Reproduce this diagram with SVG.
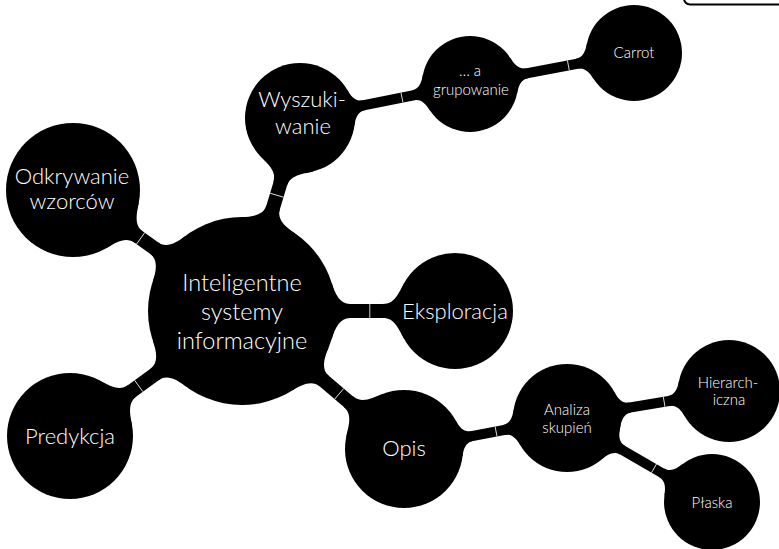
<svg xmlns="http://www.w3.org/2000/svg" xmlns:xlink="http://www.w3.org/1999/xlink" width="779" height="549" viewBox="0 0 779 549">
<style>
.c{fill:#000}
text{font-family:Lato,"Open Sans","DejaVu Sans",sans-serif;font-weight:300;fill:#fff;text-anchor:middle}
.t0{font-size:23.5px}
.t1{font-size:22px}
.t2{font-size:15px}
.b1{stroke:#000;stroke-width:14}
.b2{stroke:#000;stroke-width:10}
.tk{stroke:#fff;stroke-width:0.8}
#connectors path,#connectors use{fill:#000}
</style>
<defs>
<path id="r94" d="M-12.3,-28 L-4.27,-28 C-0.83,-16.97 3.95,-7 14,-7 L14,7 C3.95,7 -0.83,16.97 -4.27,28 L-12.3,28 Z"/>
<path id="r55" d="M-15.7,-28 L-7.66,-28 C-1.78,-18.06 2.09,-7 14,-7 L14,7 C2.09,7 -1.78,18.06 -7.66,28 L-15.7,28 Z"/>
<path id="r67" d="M-14.1,-28 L-6.13,-28 C-1.3,-17.5 2.93,-7 14,-7 L14,7 C2.93,7 -1.3,17.5 -6.13,28 L-14.1,28 Z"/>
<path id="r58" d="M-15.2,-28 L-7.21,-28 C-1.63,-17.88 2.33,-7 14,-7 L14,7 C2.33,7 -1.63,17.88 -7.21,28 L-15.2,28 Z"/>
<path id="r63" d="M-14.6,-28 L-6.56,-28 C-1.43,-17.65 2.69,-7 14,-7 L14,7 C2.69,7 -1.43,17.65 -6.56,28 L-14.6,28 Z"/>
<path id="r59" d="M-15.1,-28 L-7.07,-28 C-1.58,-17.84 2.41,-7 14,-7 L14,7 C2.41,7 -1.58,17.84 -7.07,28 L-15.1,28 Z"/>
<path id="s55" d="M-11,-18 L-3.03,-18 C-0.69,-11.24 2.83,-5 10,-5 L10,5 C2.83,5 -0.69,11.24 -3.03,18 L-11,18 Z"/>
<path id="s48" d="M-11.5,-18 L-3.5,-18 C-0.82,-11.37 2.58,-5 10,-5 L10,5 C2.58,5 -0.82,11.37 -3.5,18 L-11.5,18 Z"/>
<path id="s59" d="M-10.8,-18 L-2.81,-18 C-0.63,-11.19 2.95,-5 10,-5 L10,5 C2.95,5 -0.63,11.19 -2.81,18 L-10.8,18 Z"/>
<path id="s54" d="M-11.1,-18 L-3.09,-18 C-0.71,-11.26 2.8,-5 10,-5 L10,5 C2.8,5 -0.71,11.26 -3.09,18 L-11.1,18 Z"/>
<path id="s51" d="M-11.3,-18 L-3.28,-18 C-0.76,-11.31 2.7,-5 10,-5 L10,5 C2.7,5 -0.76,11.31 -3.28,18 L-11.3,18 Z"/>
</defs>
<rect x="684" y="-30" width="120" height="34.5" rx="6" fill="#fff" stroke="#000" stroke-width="2"/>
<g id="connectors">
<g transform="translate(242,311) rotate(-73.27)"><line class="b1" x1="0" y1="0" x2="201.53" y2="0"/><use xlink:href="#r94" x="94"/><use xlink:href="#r55" transform="translate(146.53,0) scale(-1,1)"/><line class="tk" x1="120.9" y1="-7" x2="120.9" y2="7"/></g>
<g transform="translate(242,311) rotate(-144.4)"><line class="b1" x1="0" y1="0" x2="207.85" y2="0"/><use xlink:href="#r94" x="94"/><use xlink:href="#r67" transform="translate(140.85,0) scale(-1,1)"/><line class="tk" x1="124.7" y1="-7" x2="124.7" y2="7"/></g>
<g transform="translate(242,311)"><line class="b1" x1="0" y1="0" x2="213" y2="0"/><use xlink:href="#r94" x="94"/><use xlink:href="#r58" transform="translate(155,0) scale(-1,1)"/><line class="tk" x1="127.8" y1="-7" x2="127.8" y2="7"/></g>
<g transform="translate(242,311) rotate(144)"><line class="b1" x1="0" y1="0" x2="212.62" y2="0"/><use xlink:href="#r94" x="94"/><use xlink:href="#r63" transform="translate(149.62,0) scale(-1,1)"/><line class="tk" x1="127.6" y1="-7" x2="127.6" y2="7"/></g>
<g transform="translate(242,311) rotate(40.43)"><line class="b1" x1="0" y1="0" x2="212.81" y2="0"/><use xlink:href="#r94" x="94"/><use xlink:href="#r59" transform="translate(153.81,0) scale(-1,1)"/><line class="tk" x1="127.7" y1="-7" x2="127.7" y2="7"/></g>
<g transform="translate(300,118) rotate(-11.31)"><line class="b2" x1="0" y1="0" x2="173.37" y2="0"/><use xlink:href="#s55" x="55"/><use xlink:href="#s48" transform="translate(125.37,0) scale(-1,1)"/><line class="tk" x1="104" y1="-5" x2="104" y2="5"/></g>
<g transform="translate(470,84) rotate(-10.7)"><line class="b2" x1="0" y1="0" x2="166.9" y2="0"/><use xlink:href="#s48" x="48"/><use xlink:href="#s48" transform="translate(118.9,0) scale(-1,1)"/><line class="tk" x1="100.1" y1="-5" x2="100.1" y2="5"/></g>
<g transform="translate(404,449) rotate(-10.77)"><line class="b2" x1="0" y1="0" x2="165.92" y2="0"/><use xlink:href="#s59" x="59"/><use xlink:href="#s54" transform="translate(111.92,0) scale(-1,1)"/><line class="tk" x1="93.7" y1="-5" x2="93.7" y2="5"/></g>
<g transform="translate(567,418) rotate(-9.46)"><line class="b2" x1="0" y1="0" x2="164.24" y2="0"/><use xlink:href="#s54" x="54"/><use xlink:href="#s51" transform="translate(113.24,0) scale(-1,1)"/><line class="tk" x1="98.5" y1="-5" x2="98.5" y2="5"/></g>
<g transform="translate(567,418) rotate(30.08)"><line class="b2" x1="0" y1="0" x2="167.57" y2="0"/><use xlink:href="#s54" x="54"/><use xlink:href="#s48" transform="translate(119.57,0) scale(-1,1)"/><line class="tk" x1="100.5" y1="-5" x2="100.5" y2="5"/></g>
</g>
<g id="root"><circle class="c" cx="242" cy="311" r="94"/><text class="t0" x="242" y="291">Inteligentne</text><text class="t0" x="242" y="320">systemy</text><text class="t0" x="242" y="349">informacyjne</text></g>
<g id="wyszukiwanie"><circle class="c" cx="300" cy="118" r="55"/><text class="t1" x="302" y="107">Wyszuki-</text><text class="t1" x="303" y="134">wanie</text></g>
<g id="odkrywanie"><circle class="c" cx="73" cy="190" r="67"/><text class="t1" x="72" y="184">Odkrywanie</text><text class="t1" x="72" y="209">wzorców</text></g>
<g id="eksploracja"><circle class="c" cx="455" cy="311" r="58"/><text class="t1" x="455" y="319">Eksploracja</text></g>
<g id="predykcja"><circle class="c" cx="70" cy="436" r="63"/><text class="t1" x="70" y="444">Predykcja</text></g>
<g id="opis"><circle class="c" cx="404" cy="449" r="59"/><text class="t1" x="404" y="456">Opis</text></g>
<g id="grupowanie"><circle class="c" cx="470" cy="84" r="48"/><text class="t2" x="470" y="76">… a</text><text class="t2" x="471" y="95">grupowanie</text></g>
<g id="carrot"><circle class="c" cx="634" cy="53" r="48"/><text class="t2" x="634" y="58">Carrot</text></g>
<g id="analiza"><circle class="c" cx="567" cy="418" r="54"/><text class="t2" x="567" y="415">Analiza</text><text class="t2" x="567" y="433">skupień</text></g>
<g id="hierarchiczna"><circle class="c" cx="729" cy="391" r="51"/><text class="t2" x="728" y="388">Hierarch-</text><text class="t2" x="729" y="405">iczna</text></g>
<g id="plaska"><circle class="c" cx="712" cy="502" r="48"/><text class="t2" x="712" y="508">Płaska</text></g>
</svg>
